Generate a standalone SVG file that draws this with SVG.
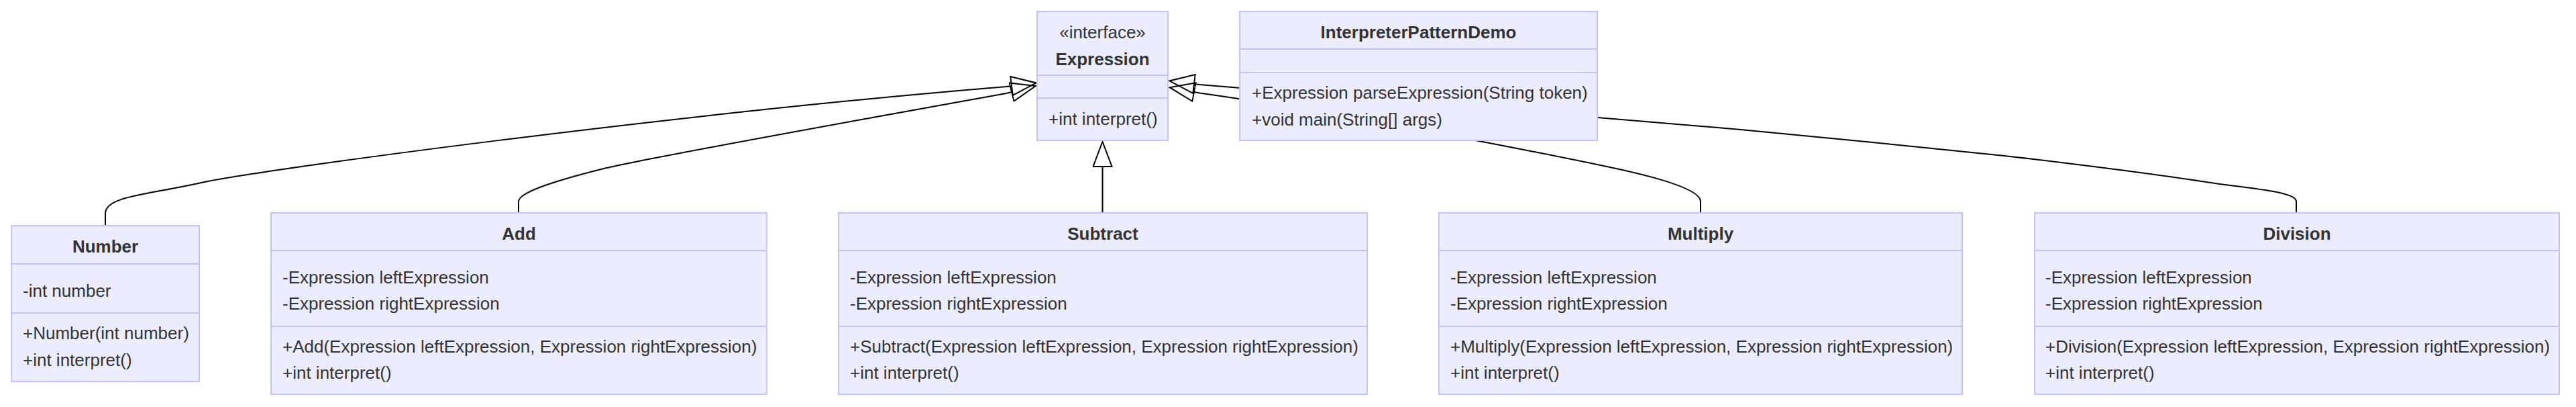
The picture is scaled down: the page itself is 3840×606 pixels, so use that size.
<svg xmlns="http://www.w3.org/2000/svg" width="3840" height="606" viewBox="0 0 3840 606">
<style>
.box{fill:#ECECFF;stroke:#C3C3FA;stroke-width:2}
.div{stroke:#C3C3FA;stroke-width:2}
.t{font-family:"Liberation Sans",Arial,sans-serif;font-size:26px;fill:#333}
.b{font-weight:bold}
.c{text-anchor:middle}
.edge{fill:none;stroke:#000;stroke-width:2}
</style>
<defs>
<marker id="ext" markerUnits="userSpaceOnUse" markerWidth="40" markerHeight="30" viewBox="0 0 40 30" refX="1" refY="15" orient="auto">
<path d="M1,1 L1,29 L38,15 Z" fill="none" stroke="#000" stroke-width="2"/>
</marker>
</defs>
<rect width="3840" height="606" fill="#fff"/>
<g id="connectors">
<path class="edge" marker-end="url(#ext)" d="M157,336 V318 C157,292 220,290 300,272 S1000,170 1500,129 L1508,128"/>
<path class="edge" marker-end="url(#ext)" d="M773,317 V300 C773,285 840,266 900,251 S1300,175 1500,139 L1508,137"/>
<path class="edge" marker-end="url(#ext)" d="M1643.5,317 V248"/>
<path class="edge" marker-end="url(#ext)" d="M2535,317 V300 C2535,285 2490,268 2400,249 S2000,168 1788,138.5 L1780,137"/>
<path class="edge" marker-end="url(#ext)" d="M3423,317 V300 C3423,285 3360,282 3282,270 C3204,258 3060,240 2988,232 S2680,201 2595,193 S2000,143 1788,126 L1780,125"/>
</g>
<g id="Expression">
<rect class="box" x="1546" y="17" width="195" height="192"/>
<line class="div" x1="1546" y1="112" x2="1741" y2="112"/>
<line class="div" x1="1546" y1="146" x2="1741" y2="146"/>
<text class="t c" x="1643.5" y="57">«interface»</text>
<text class="t b c" x="1643.5" y="97">Expression</text>
<text class="t" x="1563" y="186">+int interpret()</text>
</g>
<g id="InterpreterPatternDemo">
<rect class="box" x="1848" y="17" width="533" height="192"/>
<line class="div" x1="1848" y1="73" x2="2381" y2="73"/>
<line class="div" x1="1848" y1="108" x2="2381" y2="108"/>
<text class="t b c" x="2114.5" y="57">InterpreterPatternDemo</text>
<text class="t" x="1866" y="147">+Expression parseExpression(String token)</text>
<text class="t" x="1866" y="187">+void main(String[] args)</text>
</g>
<g id="Number">
<rect class="box" x="17" y="336" width="280" height="232"/>
<line class="div" x1="17" y1="393" x2="297" y2="393"/>
<line class="div" x1="17" y1="466" x2="297" y2="466"/>
<text class="t b c" x="157" y="376">Number</text>
<text class="t" x="34" y="442">-int number</text>
<text class="t" x="34" y="505">+Number(int number)</text>
<text class="t" x="34" y="545">+int interpret()</text>
</g>
<g id="Add">
<rect class="box" x="404" y="317" width="739" height="270"/>
<line class="div" x1="404" y1="373" x2="1143" y2="373"/>
<line class="div" x1="404" y1="486" x2="1143" y2="486"/>
<text class="t b c" x="773.5" y="357">Add</text>
<text class="t" x="421" y="422">-Expression leftExpression</text>
<text class="t" x="421" y="461">-Expression rightExpression</text>
<text class="t" x="421" y="525">+Add(Expression leftExpression, Expression rightExpression)</text>
<text class="t" x="421" y="564">+int interpret()</text>
</g>
<g id="Subtract">
<rect class="box" x="1250" y="317" width="788" height="270"/>
<line class="div" x1="1250" y1="373" x2="2038" y2="373"/>
<line class="div" x1="1250" y1="486" x2="2038" y2="486"/>
<text class="t b c" x="1644" y="357">Subtract</text>
<text class="t" x="1267" y="422">-Expression leftExpression</text>
<text class="t" x="1267" y="461">-Expression rightExpression</text>
<text class="t" x="1267" y="525">+Subtract(Expression leftExpression, Expression rightExpression)</text>
<text class="t" x="1267" y="564">+int interpret()</text>
</g>
<g id="Multiply">
<rect class="box" x="2145" y="317" width="780" height="270"/>
<line class="div" x1="2145" y1="373" x2="2925" y2="373"/>
<line class="div" x1="2145" y1="486" x2="2925" y2="486"/>
<text class="t b c" x="2535" y="357">Multiply</text>
<text class="t" x="2162" y="422">-Expression leftExpression</text>
<text class="t" x="2162" y="461">-Expression rightExpression</text>
<text class="t" x="2162" y="525">+Multiply(Expression leftExpression, Expression rightExpression)</text>
<text class="t" x="2162" y="564">+int interpret()</text>
</g>
<g id="Division">
<rect class="box" x="3033" y="317" width="782" height="270"/>
<line class="div" x1="3033" y1="373" x2="3815" y2="373"/>
<line class="div" x1="3033" y1="486" x2="3815" y2="486"/>
<text class="t b c" x="3424" y="357">Division</text>
<text class="t" x="3049" y="422">-Expression leftExpression</text>
<text class="t" x="3049" y="461">-Expression rightExpression</text>
<text class="t" x="3049" y="525">+Division(Expression leftExpression, Expression rightExpression)</text>
<text class="t" x="3049" y="564">+int interpret()</text>
</g>
</svg>
